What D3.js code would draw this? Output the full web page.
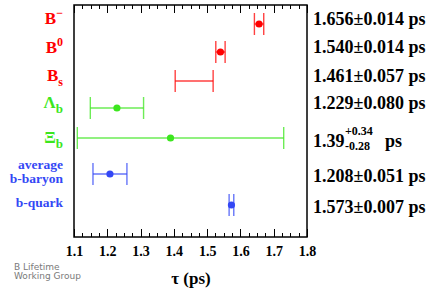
<!DOCTYPE html>
<html><head><meta charset="utf-8">
<script src="https://cdn.jsdelivr.net/npm/d3@7"></script>
<style>body{margin:0;background:#fff}svg{display:block}</style>
</head><body>
<script>
// ---- data ----
const categories = ["Bminus","B0","Bs","Lb","Xib","avg","bq"];
const values   = [1.656, 1.540, 1.461, 1.229, 1.39, 1.208, 1.573];
const errLow   = [0.014, 0.014, 0.057, 0.080, 0.28, 0.051, 0.007];
const errHigh  = [0.014, 0.014, 0.057, 0.080, 0.34, 0.051, 0.007];
const showMarker = [true, true, false, true, true, true, true];
const groups   = ["red","red","red","green","green","blue","blue"];
const xTicks   = [1.1,1.2,1.3,1.4,1.5,1.6,1.7,1.8];
const valueLabels = ["1.656\u00B10.014","1.540\u00B10.014","1.461\u00B10.057","1.229\u00B10.080",null,"1.208\u00B10.051","1.573\u00B10.007"];

const W=433,H=291;
const colors={red:"#ff0000",green:"#3ce61e",blue:"#3347f5"};
const svg=d3.select("body").append("svg").attr("width",W).attr("height",H);
const serif="'Liberation Serif','Times New Roman',serif";

const x=d3.scaleLinear().domain([1.1,1.8]).range([74,307]);
const y=d3.scaleOrdinal().domain(categories).range([24,52,81,108,138,174,205]);
const yLabel=d3.scaleOrdinal().domain(categories).range([25,53,82,109,147,182,213]);
const yTop=5,yBot=237;

// frame
svg.append("rect").attr("x",74).attr("y",yTop).attr("width",307-74).attr("height",yBot-yTop)
  .attr("fill","none").attr("stroke","#000").attr("stroke-width",1.5);

// ticks
const minor=d3.range(1.1,1.8001,0.025);
minor.forEach(v=>{
  const isMajor=Math.abs(v*10-Math.round(v*10))<1e-6;
  const len=isMajor?8:4;
  const xx=Math.round(x(v))+0.5;
  svg.append("line").attr("x1",xx).attr("x2",xx).attr("y1",yBot).attr("y2",yBot-len).attr("stroke","#000").attr("stroke-width",1);
  svg.append("line").attr("x1",xx).attr("x2",xx).attr("y1",yTop).attr("y2",yTop+len).attr("stroke","#000").attr("stroke-width",1);
});
const ax=svg.append("g").attr("transform",`translate(0,${yBot})`)
  .call(d3.axisBottom(x).tickValues(xTicks).tickFormat(d3.format(".1f")).tickSize(0).tickPadding(9));
ax.select(".domain").remove();
ax.selectAll("text").attr("font-family",serif).attr("font-weight","bold").attr("font-size",14).attr("fill","#000");

// axis title
svg.append("text").attr("x",191).attr("y",284).attr("text-anchor","middle")
  .attr("font-family",serif).attr("font-weight","bold").attr("font-size",17).text("\u03C4 (ps)");

// error bars
const capH=11;
categories.forEach((c,i)=>{
  const col=colors[groups[i]];
  const g=svg.append("g").attr("stroke",col).attr("stroke-width",1.4).attr("stroke-opacity",0.75);
  const x0=x(values[i]-errLow[i]), x1=x(values[i]+errHigh[i]), yy=y(c);
  g.append("line").attr("x1",x0).attr("x2",x1).attr("y1",yy).attr("y2",yy);
  [x0,x1].forEach(xe=>g.append("line").attr("x1",xe).attr("x2",xe).attr("y1",yy-capH).attr("y2",yy+capH));
  if(showMarker[i]) svg.append("circle").attr("cx",x(values[i])).attr("cy",yy).attr("r",3.6).attr("fill",col);
});

// left labels
function lab(yb,col,size){return svg.append("text").attr("x",63).attr("y",yb).attr("text-anchor","end")
  .attr("font-family",serif).attr("font-weight","bold").attr("font-size",size).attr("fill",col);}
let t;
t=lab(24,colors.red,17); t.append("tspan").text("B"); t.append("tspan").attr("dy",-7).attr("font-size",12).text("\u2212");
t=lab(53,colors.red,17); t.append("tspan").text("B"); t.append("tspan").attr("dy",-7).attr("font-size",12).text("0");
t=lab(81,colors.red,17); t.append("tspan").text("B"); t.append("tspan").attr("dy",5).attr("font-size",12).text("s");
t=lab(108,colors.green,17); t.append("tspan").text("\u039B"); t.append("tspan").attr("dy",5).attr("font-size",13).text("b");
t=lab(143,colors.green,17); t.append("tspan").text("\u039E"); t.append("tspan").attr("dy",5).attr("font-size",13).text("b");
lab(169,colors.blue,13.5).text("average");
lab(183,colors.blue,13.5).text("b-baryon");
lab(207,colors.blue,13.5).text("b-quark");

// right value labels
categories.forEach((c,i)=>{
  const tx=svg.append("text").attr("x",313).attr("y",yLabel(c))
    .attr("font-family",serif).attr("font-weight","bold").attr("font-size",18).attr("fill","#000");
  if(valueLabels[i]) tx.text(valueLabels[i]+" ps");
  else {
    tx.append("tspan").text(values[i].toFixed(2));
    const xs=345;
    svg.append("text").attr("x",xs).attr("y",135).attr("font-family",serif).attr("font-weight","bold").attr("font-size",12).text("+"+errHigh[i].toFixed(2));
    svg.append("text").attr("x",xs).attr("y",150).attr("font-family",serif).attr("font-weight","bold").attr("font-size",12).text("-"+errLow[i].toFixed(2));
    svg.append("text").attr("x",385).attr("y",yLabel(c)).attr("font-family",serif).attr("font-weight","bold").attr("font-size",18).text("ps");
  }
});

// credit
const cr=svg.append("text").attr("font-family","'DejaVu Sans',sans-serif").attr("font-size",9).attr("fill","#7a7a7a");
cr.append("tspan").attr("x",14).attr("y",270).text("B Lifetime");
cr.append("tspan").attr("x",14).attr("y",279).text("Working Group");
</script>
</body></html>
